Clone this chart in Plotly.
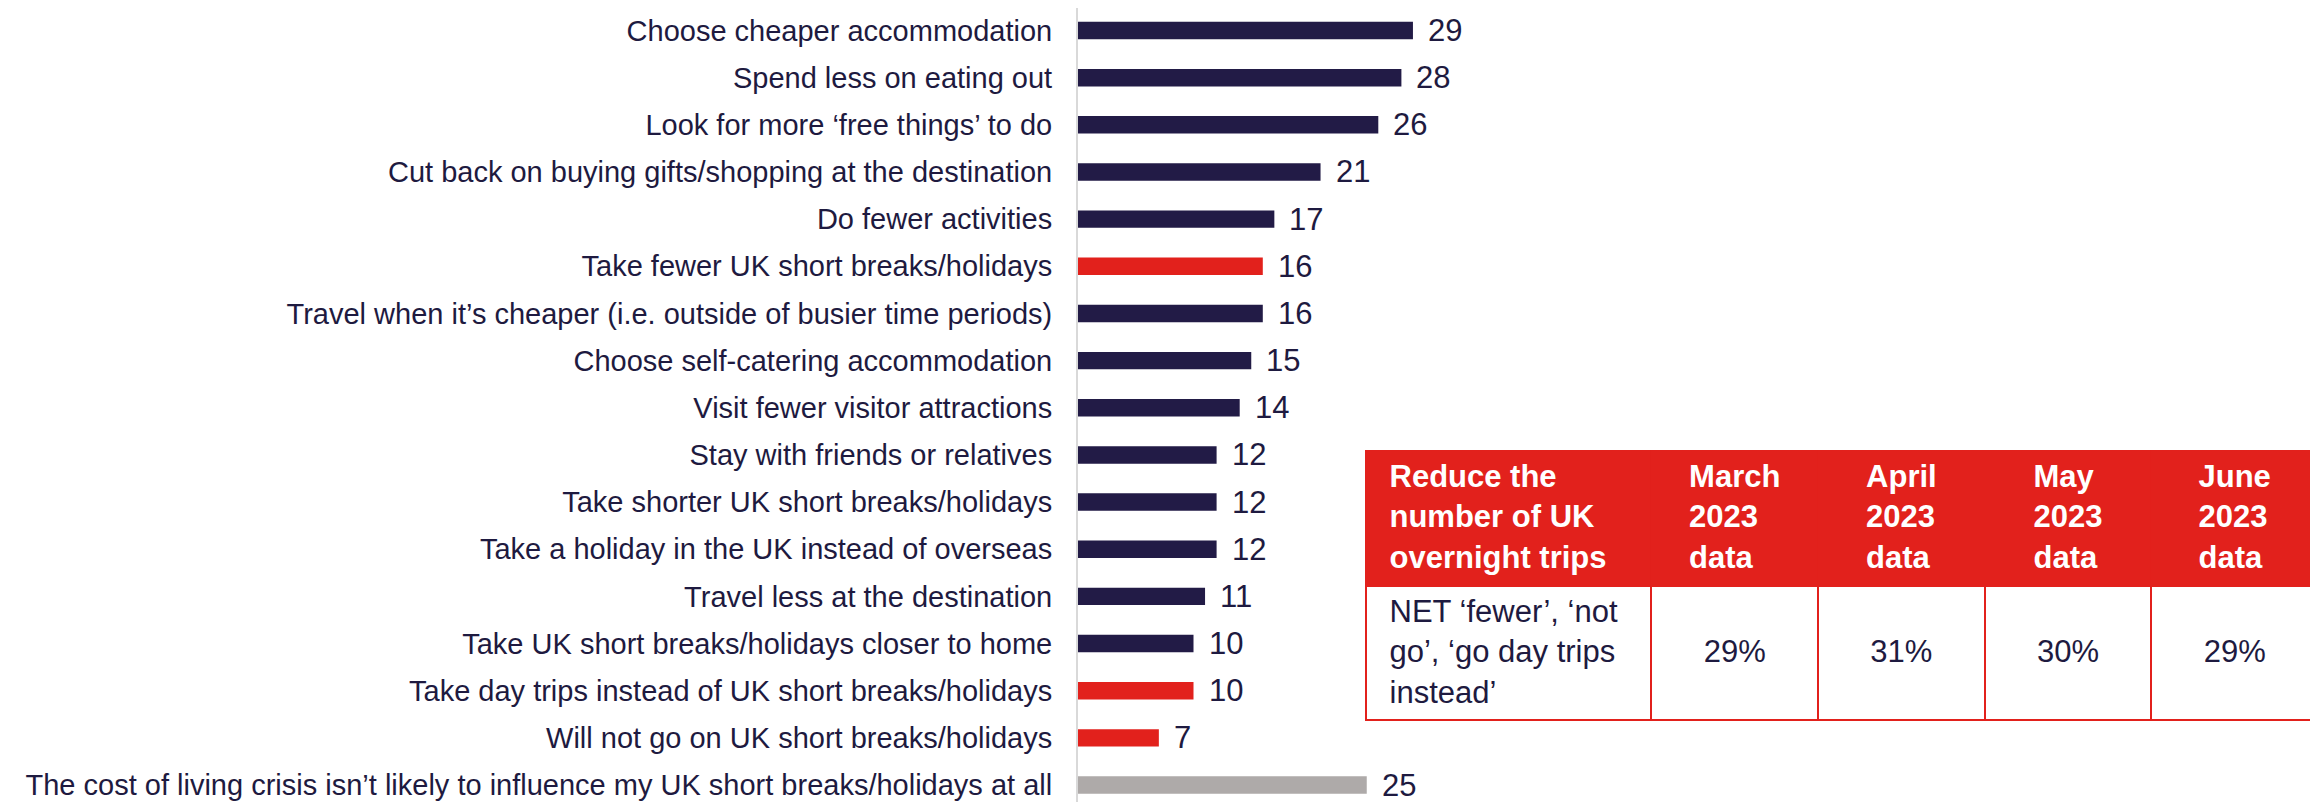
import plotly.graph_objects as go

# chart data, top to bottom
labels = [
    "Choose cheaper accommodation",
    "Spend less on eating out",
    "Look for more ‘free things’ to do",
    "Cut back on buying gifts/shopping at the destination",
    "Do fewer activities",
    "Take fewer UK short breaks/holidays",
    "Travel when it’s cheaper (i.e. outside of busier time periods)",
    "Choose self-catering accommodation",
    "Visit fewer visitor attractions",
    "Stay with friends or relatives",
    "Take shorter UK short breaks/holidays",
    "Take a holiday in the UK instead of overseas",
    "Travel less at the destination",
    "Take UK short breaks/holidays closer to home",
    "Take day trips instead of UK short breaks/holidays",
    "Will not go on UK short breaks/holidays",
    "The cost of living crisis isn’t likely to influence my UK short breaks/holidays at all",
]
values = [29, 28, 26, 21, 17, 16, 16, 15, 14, 12, 12, 12, 11, 10, 10, 7, 25]
groups = ["other", "other", "other", "other", "other", "net", "other", "other", "other",
          "other", "other", "other", "other", "other", "net", "net", "none"]

# table data
table_header = [["Reduce the", "number of UK", "overnight trips"],
                ["March", "2023", "data"], ["April", "2023", "data"],
                ["May", "2023", "data"], ["June", "2023", "data"]]
table_row_label = ["NET ‘fewer’, ‘not", "go’, ‘go day trips", "instead’"]
table_values = ["29%", "31%", "30%", "29%"]

NAVY = "#221b46"
RED = "#e2211c"
GREY = "#aeaaa9"
TEXT = "#1e1a40"
FONT = "Arial, Liberation Sans, sans-serif"
group_colors = {"other": NAVY, "net": RED, "none": GREY}

# page body has an 8px margin, so the figure is a bit smaller than the window
W, H = 2310, 794
axis_x = 1070
px_per_unit = 11.55

fig = go.Figure()
fig.add_trace(go.Bar(
    x=values, y=labels, orientation="h",
    marker=dict(color=[group_colors[g] for g in groups], line=dict(width=0)),
    hoverinfo="skip",
))

for lab, v in zip(labels, values):
    fig.add_annotation(x=v, y=lab, text=str(v), showarrow=False, xanchor="left",
                       xshift=13, font=dict(family=FONT, size=31, color=TEXT))

pad = "\u2002"
header_text = ["<b>" + pad + ("<br>" + pad).join(table_header[0]) + "</b>"]
header_text += ["<b>" + "<br>".join(h) + "</b>" for h in table_header[1:]]
cell_text = [[pad + ("<br>" + pad).join(table_row_label)]]
cell_text += [["\u00a0<br>" + v] for v in table_values]

fig.add_trace(go.Table(
    domain=dict(x=[1358 / W, 1], y=[0.095, 1 - 443 / H]),
    columnwidth=[286, 167, 167, 167, 167],
    header=dict(
        values=header_text,
        fill_color=RED, line=dict(color=RED, width=2),
        align=["left", "center", "center", "center", "center"],
        font=dict(family=FONT, size=31, color="white"), height=135,
    ),
    cells=dict(
        values=cell_text,
        fill_color="white", line=dict(color=RED, width=2),
        align=["left", "center", "center", "center", "center"],
        font=dict(family=FONT, size=31, color=TEXT), height=134,
    ),
))

fig.update_layout(
    width=W, height=H,
    margin=dict(l=0, r=0, t=0, b=0),
    paper_bgcolor="white", plot_bgcolor="white",
    bargap=0.63, showlegend=False,
    xaxis=dict(domain=[axis_x / W, 1], range=[0, (W - axis_x) / px_per_unit],
               visible=False, fixedrange=True),
    yaxis=dict(domain=[0, 1], categoryorder="array", categoryarray=labels,
               range=[16.36, -0.477], showline=True, linecolor="#d9d9d9", linewidth=2,
               showgrid=False, zeroline=False, ticks="", ticklabelstandoff=18,
               tickfont=dict(family=FONT, size=29, color=TEXT)),
)

fig.write_html("out.html")
